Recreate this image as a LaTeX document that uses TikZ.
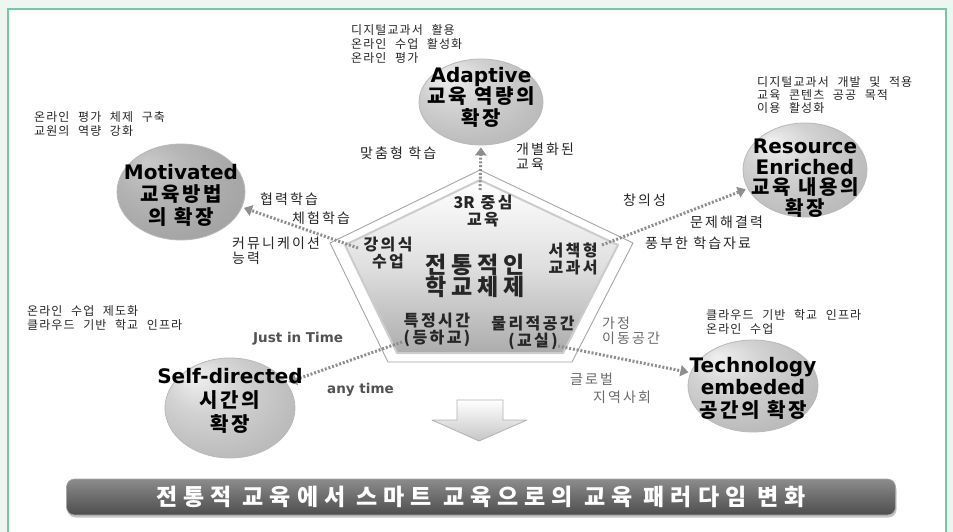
\documentclass[tikz,border=0pt]{standalone}
\usepackage{fontspec}
\setmainfont{Noto Sans CJK KR}
\newfontfamily\krn[WordSpace=2.3,LetterSpace=9]{Noto Sans CJK KR}
\newfontfamily\krs[LetterSpace=15]{Noto Sans CJK KR}
\newfontfamily\krm[LetterSpace=15]{Noto Sans CJK KR}
\newfontfamily\krz{Noto Sans CJK KR}
\newfontfamily\krbig[LetterSpace=20]{Noto Sans CJK KR}
\newfontfamily\krc[LetterSpace=14]{Noto Sans CJK KR}
\newfontfamily\krb[LetterSpace=26]{Noto Sans CJK KR}
\newfontfamily\latb{DejaVu Sans}
\usetikzlibrary{arrows.meta,shapes.geometric,shadows}
\definecolor{mint}{HTML}{EEF6F2}
\definecolor{frameg}{HTML}{72C9A5}
\definecolor{txt}{HTML}{262626}
\definecolor{soft}{HTML}{6A6A6A}
\definecolor{dotc}{HTML}{8E8E8E}
\definecolor{banTop}{HTML}{8C8C8C}
\definecolor{banMid}{HTML}{6C6C6C}
\definecolor{banBot}{HTML}{4E4E4E}
\pgfdeclareradialshading{orb}{\pgfpoint{-14bp}{16bp}}{color(0bp)=(gray!12); color(14bp)=(gray!35); color(30bp)=(gray!52); color(44bp)=(gray!64); color(50bp)=(gray!70)}
\pgfdeclareradialshading{orbdark}{\pgfpoint{-14bp}{16bp}}{color(0bp)=(gray!42); color(14bp)=(gray!58); color(30bp)=(gray!70); color(44bp)=(gray!80); color(50bp)=(gray!85)}
\newcommand{\lt}[1]{{\latb\bfseries #1}}
\tikzset{
  note/.style={font=\krn\fontsize{12}{13.6}\selectfont, text=txt, align=left, inner sep=0pt, anchor=west},
  lbl/.style={font=\krs\fontsize{14}{15}\selectfont, text=txt, align=left, inner sep=0pt, anchor=west},
  softlbl/.style={lbl, text=soft},
  latlbl/.style={font=\latb\bfseries\fontsize{13.5}{15}\selectfont, text=black!68, inner sep=0pt, anchor=west},
  plbl/.style={font=\krm\bfseries\fontsize{16}{17.5}\selectfont, text=txt, align=center, inner sep=0pt},
  bigc/.style={font=\krbig\bfseries\fontsize{23}{22.5}\selectfont, text=txt, align=center, inner sep=0pt},
  orbnode/.style={ellipse, draw=gray!55, line width=0.8pt, shading=orb, inner sep=0pt},
  orbtext/.style={font=\krc\bfseries\fontsize{20}{21.5}\selectfont, text=black, align=center, inner sep=0pt},
  dotarrow/.style={draw=dotc, line width=3pt, dash pattern=on 2pt off 1.8pt, shorten >=2pt,
     -{Triangle[length=8pt,width=11pt]}},
  banner/.style={rounded corners=8pt, draw=gray!70, line width=0.6pt, top color=banTop, bottom color=banBot, middle color=banMid,
     minimum width=829pt, minimum height=36pt, inner sep=0pt, text=white,
     font=\krb\bfseries\fontsize{23}{23}\selectfont,
     drop shadow={shadow xshift=1pt, shadow yshift=-2.5pt, opacity=0.45}}
}
\begin{document}
\begin{tikzpicture}[x=1pt,y=-1pt]
\useasboundingbox (0,0) rectangle (953,532);
% frame
\fill[mint] (0,0) rectangle (953,532);
\fill[white] (8,9) rectangle (946,532);
\draw[frameg, line width=1.6pt] (8,532) -- (8,9) -- (946,9) -- (946,532);

% pentagon
\coordinate (pT) at (480,170);
\coordinate (pL) at (330,243);
\coordinate (pR) at (633,243);
\coordinate (pBR) at (572,362);
\coordinate (pBL) at (388,362);
\coordinate (qT) at (480,180);
\coordinate (qL) at (345,245);
\coordinate (qR) at (618,245);
\coordinate (qBR) at (563,353);
\coordinate (qBL) at (397,353);
\shade[top color=white, bottom color=gray!65, middle color=gray!25] (qT) -- (qR) -- (qBR) -- (qBL) -- (qL) -- cycle;
\draw[gray!40, line width=2pt, line join=round] (qT) -- (qR) -- (qBR) -- (qBL) -- (qL) -- cycle;
\draw[gray!70, line width=0.9pt, line join=round] (pT) -- (pR) -- (pBR) -- (pBL) -- (pL) -- cycle;

% circles
\node[orbnode, minimum width=124pt, minimum height=86pt] (adapt) at (481,102) {};
\node[orbnode, shading=orbdark, minimum width=128pt, minimum height=96pt] (motiv) at (181,192) {};
\node[orbnode, minimum width=124pt, minimum height=94pt] (res) at (805,170) {};
\node[orbnode, minimum width=130pt, minimum height=100pt] (self) at (230,408) {};
\node[orbnode, minimum width=130pt, minimum height=92pt] (tech) at (753,386) {};

% arrow start points
\coordinate (cU) at (480,190);
\coordinate (cL) at (358,248);
\coordinate (cR) at (602,245);
\coordinate (cBL) at (402,342);
\coordinate (cBR) at (558,346);
\draw[dotarrow] (cU) -- (adapt.south);
\draw[dotarrow] (cL) -- (motiv.-14);
\draw[dotarrow] (cR) -- (res.198);
\draw[dotarrow] (cBL) -- (self.24);
\draw[dotarrow] (cBR) -- (tech.168);

% circle texts
\node[orbtext] (adaptT) at (481,97) {\lt{Adaptive}\\교육 역량의\\확장};
\node[orbtext, font=\krc\bfseries\fontsize{20}{22.5}\selectfont] (motivT) at (181,195) {\lt{Motivated}\\교육방법\\의 확장};
\node[orbtext, font=\krc\bfseries\fontsize{20}{20.5}\selectfont] (resT) at (805,178) {\lt{Resource}\\\lt{Enriched}\\교육 내용의\\확장};
\node[orbtext, font=\krc\bfseries\fontsize{20}{24}\selectfont] (selfT) at (230,401) {\lt{Self-directed}\\시간의\\확장};
\node[orbtext, font=\krc\bfseries\fontsize{20}{22.5}\selectfont] (techT) at (753,388) {\lt{Technology}\\\lt{embeded}\\공간의 확장};

% pentagon texts
\node[plbl] (p3r) at (483,211) {{\krz\bfseries 3R} 중심\\교육};
\node[plbl] (plec) at (388,253) {강의식\\수업};
\node[plbl] (pbook) at (573,259) {서책형\\교과서};
\node[plbl] (ptime) at (437,330) {특정시간\\(등하교)};
\node[plbl] (pspace) at (533,333) {물리적공간\\(교실)};
\node[bigc] (pcent) at (475,276) {전통적인\\학교체제};

% notes
\node[note] (adaptN) at (351,44) {디지털교과서 활용\\온라인 수업 활성화\\온라인 평가};
\node[note] (motivN) at (34,124) {온라인 평가 체제 구축\\교원의 역량 강화};
\node[note, font=\krn\fontsize{12}{13}\selectfont] (resN) at (757,95) {디지털교과서 개발 및 적용\\교육 콘텐츠 공공 목적\\이용 활성화};
\node[note] (selfN) at (27,318) {온라인 수업 제도화\\클라우드 기반 학교 인프라};
\node[note] (techN) at (706,322) {클라우드 기반 학교 인프라\\온라인 수업};

% arrow labels
\node[lbl] (l1) at (360,153) {맞춤형 학습};
\node[lbl] (l2) at (516,157) {개별화된\\교육};
\node[lbl] (l3) at (260,199) {협력학습};
\node[lbl] (l4) at (292,218) {체험학습};
\node[lbl, font=\krs\fontsize{14}{14.5}\selectfont] (l5) at (232,251) {커뮤니케이션\\능력};
\node[lbl] (l6) at (623,200) {창의성};
\node[lbl] (l7) at (690,222) {문제해결력};
\node[lbl] (l8) at (645,243) {풍부한 학습자료};
\node[softlbl] (l9) at (602,331) {가정\\이동공간};
\node[latlbl] (l10) at (253,339) {Just in Time};
\node[latlbl] (l11) at (327,390) {any time};
\node[softlbl] (l12) at (570,379) {글로벌};
\node[softlbl] (l13) at (593,397) {지역사회};

% big down arrow
\draw[gray!60, line width=0.8pt, line join=round, top color=white, bottom color=gray!45]
  (457,400) -- (503,400) -- (503,420) -- (527,420) -- (479,441) -- (432,420) -- (457,420) -- cycle;

% banner
\node[banner] (ban) at (481,497) {전통적 교육에서 스마트 교육으로의 교육 패러다임 변화};
\end{tikzpicture}
\end{document}
